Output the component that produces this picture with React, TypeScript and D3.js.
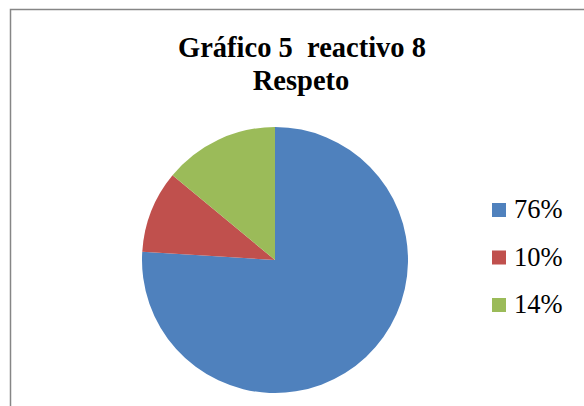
import React from "react";
import * as d3 from "d3";

const categories = ["76%", "10%", "14%"];
const values = [76, 10, 14];
const colors = ["#4F81BD", "#C0504D", "#9BBB59"];
const titleLines = ["Gráfico 5  reactivo 8", "Respeto"];

export default function App() {
  const W = 584, H = 406;
  const cx = 275, cy = 260, r = 133;
  const pie = d3.pie<number>().sort(null).value((d) => d);
  const arcs = pie(values);
  const arc = d3.arc<d3.PieArcDatum<number>>().innerRadius(0).outerRadius(r);
  const legendY = d3.scalePoint<string>().domain(categories).range([218, 313]);
  const serif = "'Liberation Serif', 'Times New Roman', serif";
  return (
    <svg width={W} height={H} style={{ position: "absolute", left: 0, top: 0, background: "#fff" }}>
      <rect x={10.5} y={9.5} width={700} height={500} fill="#fff" stroke="#868686" strokeWidth={1.5} />
      <text x={302} y={57} textAnchor="middle" fontFamily={serif} fontWeight="bold" fontSize={28.5} style={{ whiteSpace: "pre" }}>{titleLines[0]}</text>
      <text x={301} y={90} textAnchor="middle" fontFamily={serif} fontWeight="bold" fontSize={28.5}>{titleLines[1]}</text>
      <g transform={`translate(${cx},${cy})`}>
        {arcs.map((a, i) => (
          <path key={i} d={arc(a) || ""} fill={colors[i]} />
        ))}
      </g>
      {categories.map((c, i) => {
        const y = legendY(c)!;
        return (
          <g key={c}>
            <rect x={492} y={y - 15} width={14} height={14} fill={colors[i]} />
            <text x={514} y={y} fontFamily={serif} fontSize={26.5} fill="#000">{c}</text>
          </g>
        );
      })}
    </svg>
  );
}
